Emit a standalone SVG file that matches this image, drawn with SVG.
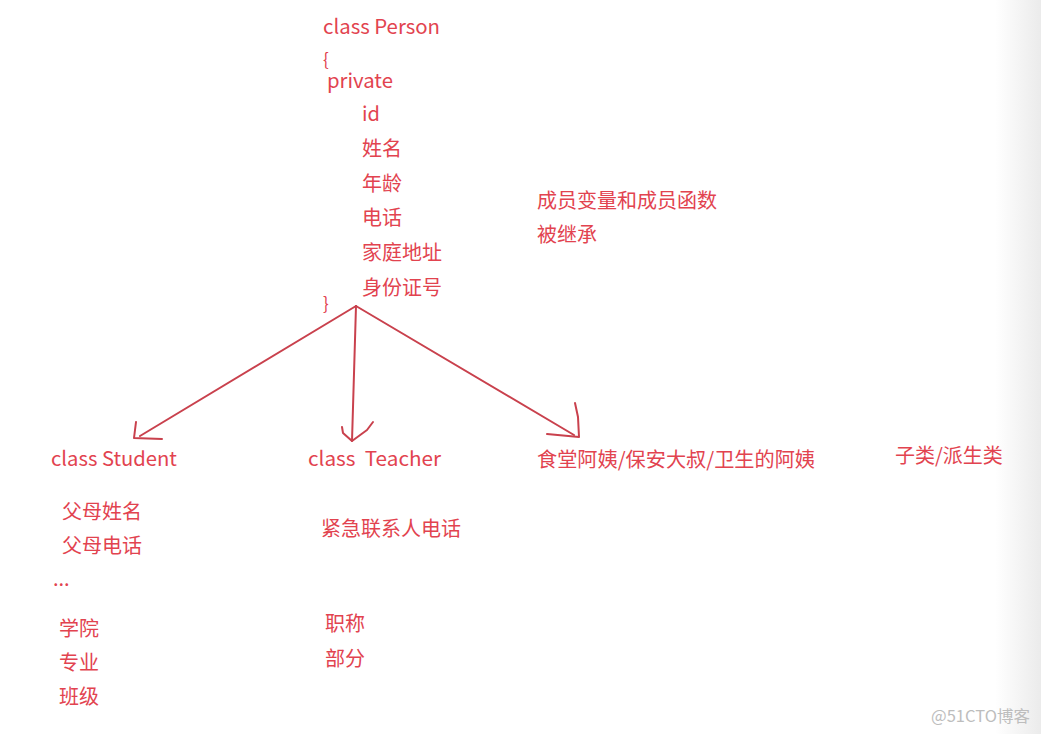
<svg xmlns="http://www.w3.org/2000/svg" width="1041" height="734" viewBox="0 0 1041 734">
  <defs>
    <linearGradient id="edge" x1="0" y1="0" x2="1" y2="0">
      <stop offset="0" stop-color="#ffffff"/>
      <stop offset="1" stop-color="#ebebeb"/>
    </linearGradient>
    <style>
      text { font-family: "Noto Sans CJK SC", "Noto Sans", sans-serif; font-size: 20px; fill: #e2434f; }
      .brace { font-size: 17px; }
      .wm { font-size: 16px; fill: #bdbdbd; }
      .conn { fill: none; stroke: #c9414d; stroke-width: 2; stroke-linecap: round; stroke-linejoin: round; }
    </style>
  </defs>
  <rect width="1041" height="734" fill="#ffffff"/>
  <rect x="995" y="0" width="46" height="734" fill="url(#edge)"/>

  <g id="person">
    <text x="323" y="34" textLength="117" lengthAdjust="spacingAndGlyphs">class Person</text>
    <text class="brace" x="323" y="66">{</text>
    <text x="327" y="88" textLength="66" lengthAdjust="spacingAndGlyphs">private</text>
    <text x="362" y="121">id</text>
    <text x="362" y="156">姓名</text>
    <text x="362" y="191">年龄</text>
    <text x="362" y="225">电话</text>
    <text x="362" y="260">家庭地址</text>
    <text x="362" y="295">身份证号</text>
    <text class="brace" x="323" y="310">}</text>
  </g>

  <g id="note">
    <text x="537" y="208">成员变量和成员函数</text>
    <text x="537" y="242">被继承</text>
  </g>

  <g id="connectors">
    <path class="conn" d="M356,306 L140,436"/>
    <path class="conn" d="M136,422 L134,438 L162,439"/>
    <path class="conn" d="M356,306 L352,441"/>
    <path class="conn" d="M342,427 L343,433 L352,441 L367,430 L373,422"/>
    <path class="conn" d="M356,306 L574,435"/>
    <path class="conn" d="M575,403 L578,417 L579,437 L547,434"/>
  </g>

  <g id="student">
    <text x="51" y="466" textLength="126" lengthAdjust="spacingAndGlyphs">class Student</text>
    <text x="62" y="519">父母姓名</text>
    <text x="62" y="553">父母电话</text>
    <text x="53" y="586">...</text>
    <text x="59" y="636">学院</text>
    <text x="59" y="670">专业</text>
    <text x="59" y="704">班级</text>
  </g>

  <g id="teacher">
    <text x="308" y="466" xml:space="preserve" textLength="133" lengthAdjust="spacingAndGlyphs">class  Teacher</text>
    <text x="321" y="536">紧急联系人电话</text>
    <text x="325" y="631">职称</text>
    <text x="325" y="666">部分</text>
  </g>

  <g id="staff">
    <text x="537" y="467" textLength="278" lengthAdjust="spacingAndGlyphs">食堂阿姨/保安大叔/卫生的阿姨</text>
  </g>

  <g id="subclass">
    <text x="895" y="463">子类/派生类</text>
  </g>

  <text class="wm" x="931" y="722" textLength="99" lengthAdjust="spacingAndGlyphs">@51CTO博客</text>
</svg>
